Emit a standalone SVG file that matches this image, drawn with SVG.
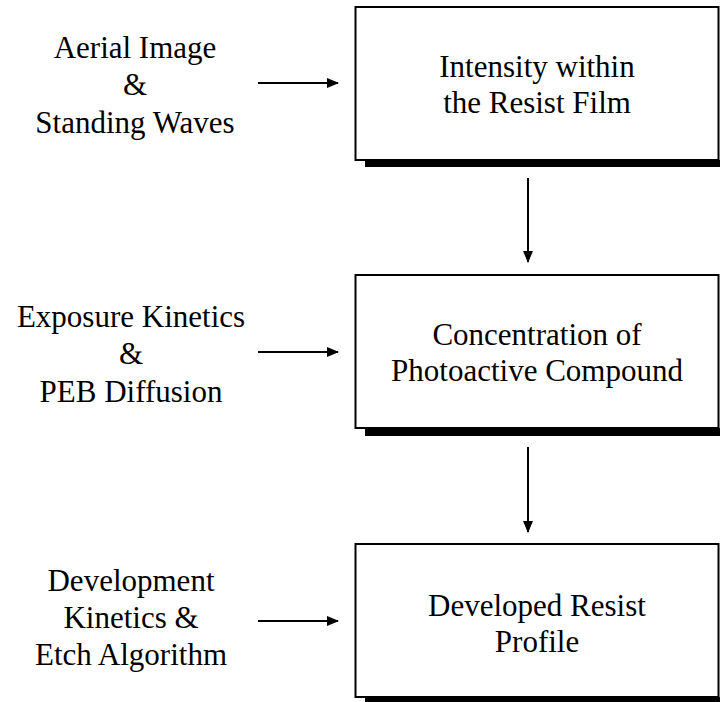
<svg xmlns="http://www.w3.org/2000/svg" width="720" height="702" viewBox="0 0 720 702">
<style>
text{font-family:'Liberation Serif','Times New Roman',serif;font-size:31px;fill:#000;text-anchor:middle}
.box{fill:#fff;stroke:#000;stroke-width:2}
.shadow{fill:#000}
.conn{stroke:#000;stroke-width:2;fill:none;marker-end:url(#ah)}
</style>
<defs>
<marker id="ah" viewBox="0 0 12 10" refX="11" refY="5" markerWidth="12" markerHeight="10" markerUnits="userSpaceOnUse" orient="auto">
<path d="M0,0 L12,5 L0,10 Z" fill="#000"/>
</marker>
</defs>
<rect width="720" height="702" fill="#fff"/>
<g id="connectors">
<line class="conn" x1="258" y1="83" x2="338" y2="83"/>
<line class="conn" x1="528" y1="178" x2="528" y2="262"/>
<line class="conn" x1="258" y1="352" x2="338" y2="352"/>
<line class="conn" x1="528" y1="447" x2="528" y2="532"/>
<line class="conn" x1="258" y1="621" x2="338" y2="621"/>
</g>
<g id="box1">
<rect class="shadow" x="365" y="160" width="360" height="7"/>
<rect class="box" x="355.5" y="7" width="363" height="153"/>
<text x="537" y="77">Intensity within</text>
<text x="537" y="113">the Resist Film</text>
</g>
<g id="box2">
<rect class="shadow" x="365" y="428" width="360" height="8"/>
<rect class="box" x="355.5" y="275" width="363" height="153"/>
<text x="537" y="345">Concentration of</text>
<text x="537" y="381">Photoactive Compound</text>
</g>
<g id="box3">
<rect class="shadow" x="365" y="697" width="360" height="8"/>
<rect class="box" x="355.5" y="544" width="363" height="153"/>
<text x="537" y="616">Developed Resist</text>
<text x="537" y="652">Profile</text>
</g>
<g id="label1">
<text x="135" y="58">Aerial Image</text>
<text x="135" y="95">&amp;</text>
<text x="135" y="133">Standing Waves</text>
</g>
<g id="label2">
<text x="131" y="327">Exposure Kinetics</text>
<text x="131" y="364">&amp;</text>
<text x="131" y="402">PEB Diffusion</text>
</g>
<g id="label3">
<text x="131" y="591">Development</text>
<text x="131" y="628">Kinetics &amp;</text>
<text x="131" y="665">Etch Algorithm</text>
</g>
</svg>
